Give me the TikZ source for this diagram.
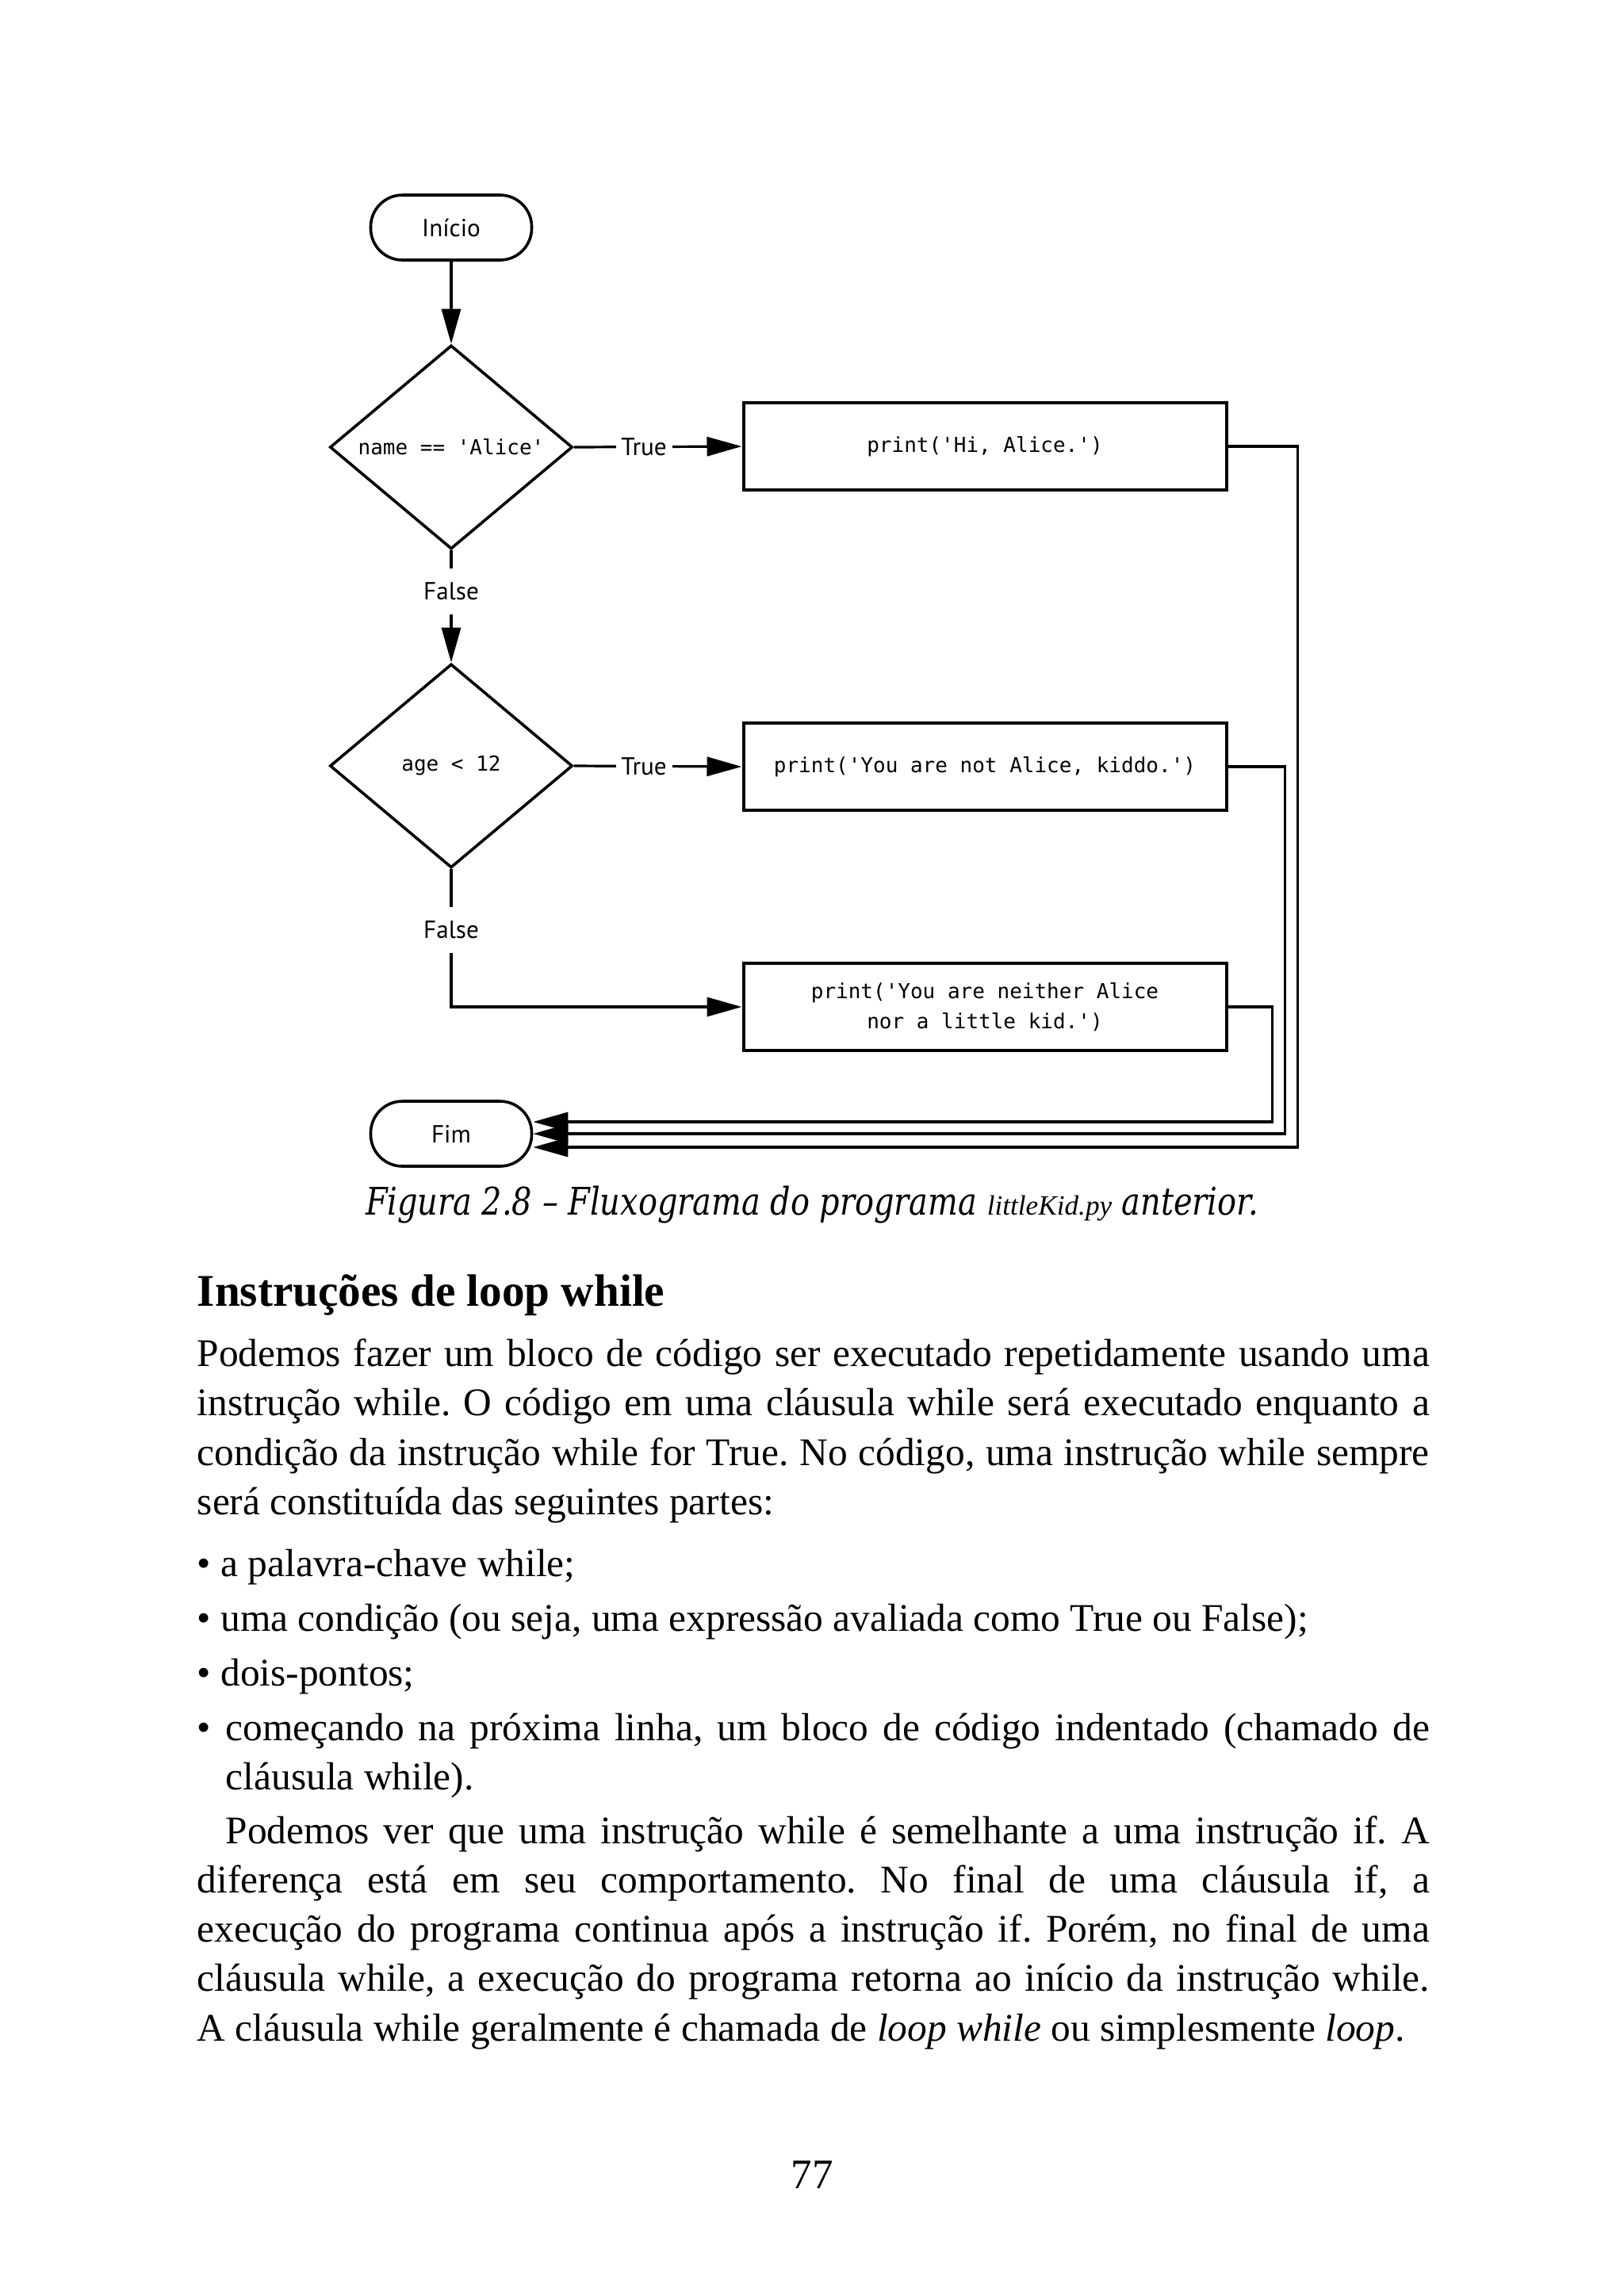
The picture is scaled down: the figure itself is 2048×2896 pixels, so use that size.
\documentclass[tikz,border=0pt]{standalone}
\usepackage{fontspec}
\setmainfont{Liberation Serif}
\setmonofont{DejaVu Sans Mono}
\newfontfamily\labelfont{PT Sans}
\newfontfamily\captionfont[FakeStretch=0.83]{DejaVu Serif}
\usetikzlibrary{arrows.meta,shapes.geometric}

\begin{document}
\begin{tikzpicture}[x=0.25pt,y=-0.25pt,
  term/.style={draw,line width=0.9pt,rounded corners=10pt,minimum width=50.75pt,
    minimum height=20.5pt,inner sep=0pt,font=\labelfont\fontsize{7.8pt}{9pt}\selectfont},
  decision/.style={draw,diamond,line width=0.9pt,minimum width=76.5pt,minimum height=64.25pt,
    inner sep=0pt,font=\ttfamily\fontsize{6.5pt}{9.6pt}\selectfont},
  action/.style={draw,line width=1pt,minimum width=152.25pt,minimum height=27.5pt,
    inner sep=0pt,align=center,font=\ttfamily\fontsize{6.5pt}{9.6pt}\selectfont},
  lbl/.style={fill=white,inner xsep=1.7pt,inner ysep=0pt,minimum height=14.5pt,
    font=\labelfont\fontsize{7.8pt}{9pt}\selectfont},
  flow/.style={line width=0.8pt,-{Triangle[length=11pt,width=6pt]}},
  body/.style={anchor=base west,inner sep=0pt,text width=388.5pt,align=justify,
    font=\fontsize{12.35pt}{15.58pt}\selectfont}]

  \useasboundingbox (0,0) rectangle (2048,2896);
  \fill[white] (0,0) rectangle (2048,2896);

  % flowchart
  \node[term] (start) at (569,287) {Início};
  \node[decision] (d1) at (569,564) {name == 'Alice'};
  \node[action] (b1) at (1242,563) {print('Hi, Alice.')};
  \node[decision] (d2) at (569,966) {age < 12};
  \node[action] (b2) at (1242,967) {print('You are not Alice, kiddo.')};
  \node[action] (b3) at (1242,1270) {print('You are neither Alice\\nor a little kid.')};
  \node[term] (fim) at (569,1430) {Fim};

  \draw[flow] (start.south) -- (d1.north);
  \draw[flow] (d1.east) -- node[lbl,pos=0.417] {True} (b1.west);
  \draw[flow] (d1.south) -- node[lbl,pos=0.363] {False} (d2.north);
  \draw[flow] (d2.east) -- node[lbl,pos=0.417] {True} (b2.west);
  \draw[flow] (d2.south) |- node[lbl,pos=0.22] {False} (b3.west);

  \draw[flow] (b1.east) -- ++(88,0) |- ([yshift=-4.25pt]fim.east);
  \draw[flow] (b2.east) -- ++(72,0) |- (fim.east);
  \draw[flow] (b3.east) -- ++(56,0) |- ([yshift=3.75pt]fim.east);

  % page text
  \node[anchor=base,inner sep=0pt] (caption) at (1024,1532)
    {\captionfont\itshape\fontsize{12pt}{14pt}\selectfont Figura 2.8 – Fluxograma do programa
    {\rmfamily\itshape\fontsize{8.8pt}{10pt}\selectfont littleKid.py} anterior.};
  \node[anchor=base west,inner sep=0pt] (heading) at (248,1647)
    {\fontsize{14.3pt}{17pt}\selectfont\bfseries Instruções de loop while};
  \node[body] (para1) at (248,1723.5) {\frenchspacing\tolerance=9999 \hyphenpenalty=10000
    Podemos fazer um bloco de código ser executado
    repetidamente usando uma\linebreak instrução while. O código em uma cláusula while será
    executado enquanto a\linebreak condição da instrução while for True. No código, uma
    instrução while sempre\linebreak será constituída das seguintes partes:};
  \node[body] (bullets) at (248,1988) {\frenchspacing\tolerance=9999 \hyphenpenalty=10000
    \setlength\parskip{1.7pt}%
    • a palavra-chave while;\par
    • uma condição (ou seja, uma expressão avaliada como True ou False);\par
    • dois-pontos;\par
    \makebox[9pt][l]{•}\parbox[t]{379.5pt}{\tolerance=9999 \hyphenpenalty=10000
    começando na próxima linha, um bloco de
    código indentado (chamado de\linebreak cláusula while).}};
  \node[body] (para2) at (248,2325) {\frenchspacing\tolerance=9999 \hyphenpenalty=10000
    \hspace*{9pt}Podemos ver que uma instrução while é
    semelhante a uma instrução if. A\linebreak diferença está em seu comportamento. No final
    de uma cláusula if, a\linebreak execução do programa continua após a instrução if. Porém,
    no final de uma\linebreak cláusula while, a execução do programa retorna ao início da
    instrução while.\linebreak A cláusula while geralmente é chamada de \textit{loop while}
    ou simplesmente \textit{loop}.};
  \node[anchor=base,inner sep=0pt] (pagenum) at (1024,2760)
    {\fontsize{13.25pt}{15pt}\selectfont 77};
\end{tikzpicture}
\end{document}
